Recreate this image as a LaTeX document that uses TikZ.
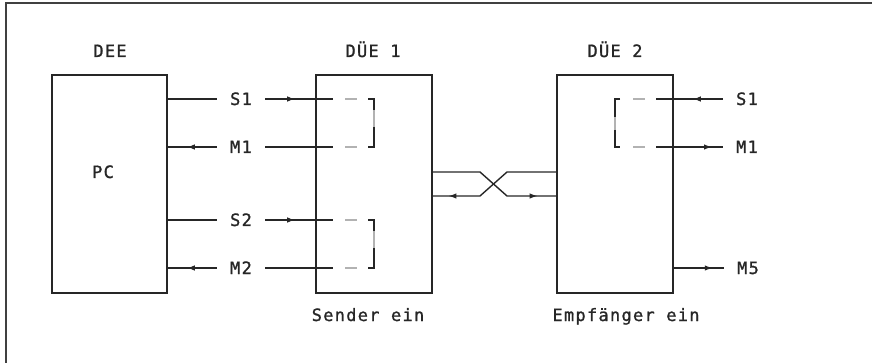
\documentclass[tikz,border=0pt]{standalone}
\usepackage{fontspec}
\newfontfamily\plotfont[LetterSpace=7.5, FakeBold=1.2]{DejaVu Sans Mono}
\usetikzlibrary{arrows.meta,decorations.markings}
\tikzset{
  ln/.style={draw=black!85, line width=1.4pt},
  faint/.style={draw=black!30, line width=1.4pt},
  box/.style={draw=black!85, line width=1.5pt, inner sep=0pt, minimum width=116pt, minimum height=218pt},
  lbl/.style={font=\plotfont\fontsize{17}{17}\selectfont, inner sep=0pt, text=black!85},
  sig/.style={lbl, minimum width=48pt, text height=12pt, text depth=0pt},
  arr at/.style={postaction={decorate}, decoration={markings, mark=at position #1 with {\arrow{Latex[length=8pt,width=5.5pt]}}}}
}
\begin{document}
\begin{tikzpicture}[x=1pt,y=-1pt]
\useasboundingbox (0,0) rectangle (872,363);
% frame
\draw[draw=black!75, line width=1.8pt] (6,363) -- (6,3) -- (872,3);
% boxes
\node[box, minimum width=115pt] (pc) at (109.5,184) {};
\node[box] (d1) at (374,184) {};
\node[box] (d2) at (615,184) {};
% titles
\node[lbl, anchor=base] (tdee) at (110,57) {DEE};
\node[lbl, anchor=base] (td1) at (373,57) {DÜE 1};
\node[lbl, anchor=base] (td2) at (615,57) {DÜE 2};
\node[lbl, anchor=base] (tpc) at (103,178) {PC};
\node[lbl, anchor=base] (tsend) at (368,321) {Sender ein};
\node[lbl, anchor=base] (temp) at (626,321) {Empfänger ein};
% signal labels
\node[sig] (s1) at (241,99) {S1};
\node[sig] (m1) at (241,147) {M1};
\node[sig] (s2) at (241,220) {S2};
\node[sig] (m2) at (241,268) {M2};
\node[sig] (s1r) at (747,99) {S1};
\node[sig] (m1r) at (747,147) {M1};
\node[sig] (m5r) at (748,268) {M5};
% junction points inside DUE 1
\coordinate (j1) at (333,99);
\coordinate (j2) at (333,147);
\coordinate (j3) at (333,220);
\coordinate (j4) at (333,268);
% DEE <-> DUE 1
\draw[ln] (pc.east |- s1) -- (s1.west);
\draw[ln, arr at=30pt] (s1.east) -- (j1);
\draw[ln, arr at=30pt] (m1.west) -- (pc.east |- m1);
\draw[ln] (m1.east) -- (j2);
\draw[ln] (pc.east |- s2) -- (s2.west);
\draw[ln, arr at=30pt] (s2.east) -- (j3);
\draw[ln, arr at=30pt] (m2.west) -- (pc.east |- m2);
\draw[ln] (m2.east) -- (j4);
% brackets in DUE 1
\foreach \ya/\yb in {99/147, 220/268}{
  \draw[faint] (345,\ya) -- (357,\ya);
  \draw[faint] (345,\yb) -- (357,\yb);
  \draw[ln] (368,\ya) -- (374,\ya) -- (374,\ya+11);
  \draw[faint] (374,\ya+11) -- (374,\ya+28);
  \draw[ln] (374,\ya+28) -- (374,\yb) -- (368,\yb);
}
% crossover line
\coordinate (xa) at (480,172);
\coordinate (xb) at (507,196);
\coordinate (xc) at (507,172);
\coordinate (xd) at (480,196);
\draw[ln, arr at=114pt] (d1.east |- xa) -- (xa) -- (xb) -- (d2.west |- xb);
\draw[ln, arr at=117pt] (d2.west |- xc) -- (xc) -- (xd) -- (d1.east |- xd);
% DUE 2 side
\coordinate (k1) at (656,99);
\coordinate (k2) at (656,147);
\draw[ln, arr at=30pt] (s1r.west) -- (k1);
\draw[ln, arr at=56pt] (k2) -- (m1r.west);
\draw[ln, arr at=39pt] (d2.east |- m5r) -- (m5r.west);
\draw[faint] (633,99) -- (645,99);
\draw[faint] (633,147) -- (645,147);
\draw[ln] (620,99) -- (615,99) -- (615,117);
\draw[faint] (615,117) -- (615,130);
\draw[ln] (615,130) -- (615,147) -- (620,147);
\end{tikzpicture}
\end{document}
